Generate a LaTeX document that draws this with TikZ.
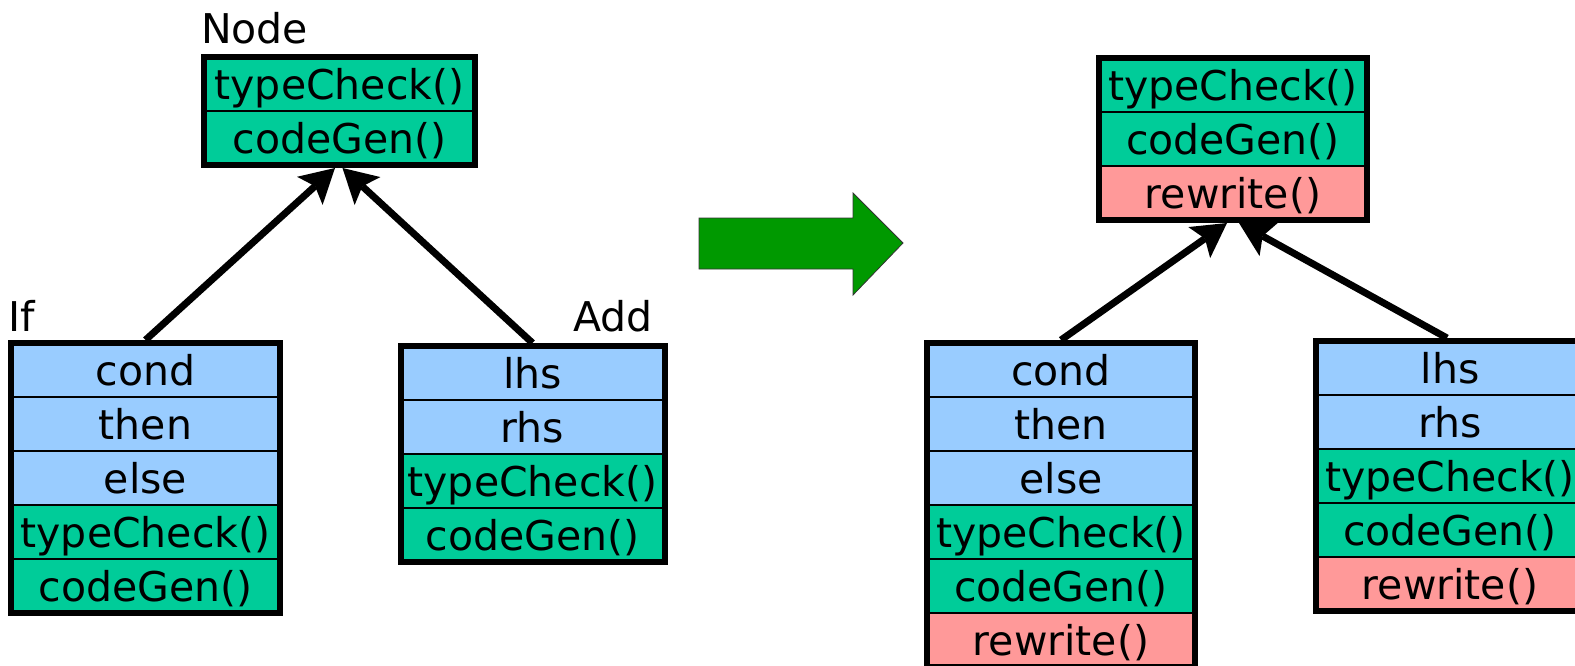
\documentclass[tikz,border=0pt]{standalone}
\usepackage{fontspec}
\setmainfont{DejaVu Sans}
\usetikzlibrary{positioning,fit,arrows.meta}

\definecolor{methodcol}{HTML}{00CC99}
\definecolor{fieldcol}{HTML}{99CCFF}
\definecolor{newcol}{HTML}{FF9999}
\definecolor{bigarrowcol}{HTML}{009900}

\tikzset{
  txt/.style={font=\fontsize{41pt}{49pt}\selectfont},
  row/.style={txt, draw, line width=2pt, minimum width=268pt, minimum height=54pt,
              inner sep=0pt, outer sep=0pt, text height=30pt, text depth=0pt},
  fieldrow/.style={row, fill=fieldcol},
  methodrow/.style={row, fill=methodcol},
  newrow/.style={row, fill=newcol},
  below row/.style={below=0pt of #1},
  classframe/.style={draw, line width=6pt, inner sep=0pt},
  classname/.style={txt, inner sep=0pt},
  inherit/.style={line width=7pt,
    -{Stealth[length=34pt, width=38pt, inset=7pt, line width=0pt]}},
}

\begin{document}
\begin{tikzpicture}[x=1pt, y=-1pt]
\useasboundingbox (0,0) rectangle (1575,665);
\clip (0,0) rectangle (1575,665);

% ---------- before: base class and two subclasses ----------
\node[methodrow, minimum width=271pt] (n1) at (339.5,84) {typeCheck()};
\node[methodrow, minimum width=271pt, below row=n1] (n2) {codeGen()};

\node[fieldrow, minimum width=269pt] (i1) at (145.5,370) {cond};
\node[fieldrow, minimum width=269pt, below row=i1] (i2) {then};
\node[fieldrow, minimum width=269pt, below row=i2] (i3) {else};
\node[methodrow, minimum width=269pt, below row=i3] (i4) {typeCheck()};
\node[methodrow, minimum width=269pt, below row=i4] (i5) {codeGen()};

\node[fieldrow, minimum width=264pt] (a1) at (532.5,373) {lhs};
\node[fieldrow, minimum width=264pt, below row=a1] (a2) {rhs};
\node[methodrow, minimum width=264pt, below row=a2] (a3) {typeCheck()};
\node[methodrow, minimum width=264pt, below row=a3] (a4) {codeGen()};

% ---------- after: every class gains rewrite() ----------
\node[methodrow] (m1) at (1233,85) {typeCheck()};
\node[methodrow, below row=m1] (m2) {codeGen()};
\node[newrow, below row=m2] (m3) {rewrite()};

\node[fieldrow] (p1) at (1061,370) {cond};
\node[fieldrow, below row=p1] (p2) {then};
\node[fieldrow, below row=p2] (p3) {else};
\node[methodrow, below row=p3] (p4) {typeCheck()};
\node[methodrow, below row=p4] (p5) {codeGen()};
\node[newrow, below row=p5] (p6) {rewrite()};

\node[fieldrow] (q1) at (1450,368) {lhs};
\node[fieldrow, below row=q1] (q2) {rhs};
\node[methodrow, below row=q2] (q3) {typeCheck()};
\node[methodrow, below row=q3] (q4) {codeGen()};
\node[newrow, below row=q4] (q5) {rewrite()};

% class outlines
\node[classframe, fit=(n1)(n2)] (nodebox) {};
\node[classframe, fit=(i1)(i5)] (ifbox) {};
\node[classframe, fit=(a1)(a4)] (addbox) {};
\node[classframe, fit=(m1)(m3)] (nodebox2) {};
\node[classframe, fit=(p1)(p6)] (ifbox2) {};
\node[classframe, fit=(q1)(q5)] (addbox2) {};

% class names
\node[classname, anchor=base west] (nodelbl) at (201,43) {Node};
\node[classname, anchor=base west] (iflbl) at (8,331) {If};
\node[classname, anchor=base east] (addlbl) at (653,331) {Add};

% inheritance arrows
\draw[inherit] (ifbox.north) -- ([xshift=-4.5pt]nodebox.south);
\draw[inherit] (addbox.north) -- ([xshift=3pt]nodebox.south);
\draw[inherit] (ifbox2.north) -- ([xshift=-6pt]nodebox2.south);
\draw[inherit] ([xshift=-3pt]addbox2.north) -- ([xshift=6pt]nodebox2.south);

% block arrow between the two versions
\draw[fill=bigarrowcol, draw=black!80, line width=0.8pt]
  (699,218) -- (853,218) -- (853,193) -- (903,243) -- (853,295)
  -- (853,269) -- (699,269) -- cycle;
\end{tikzpicture}
\end{document}
